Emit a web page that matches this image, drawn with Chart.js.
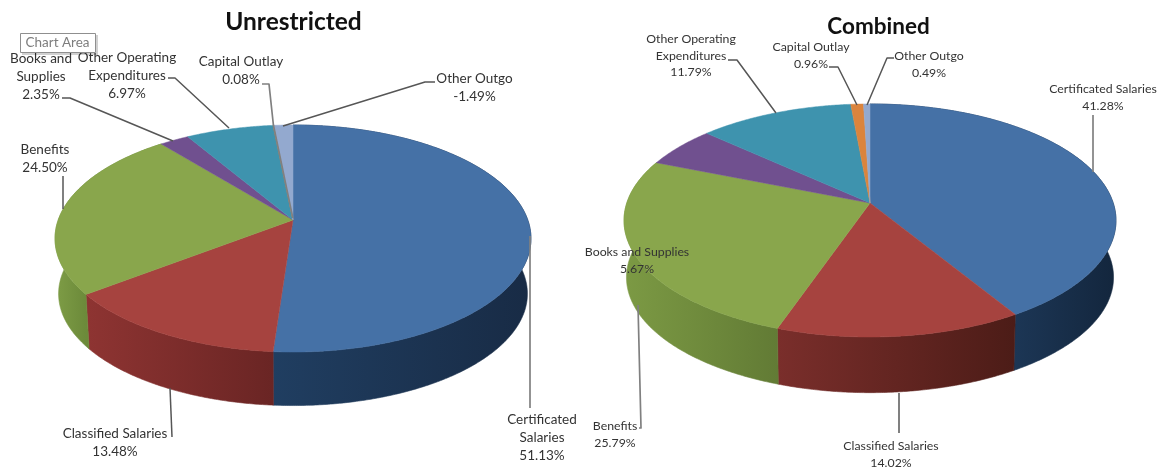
<!DOCTYPE html>
<html>
<head>
<meta charset="utf-8">
<script src="https://cdn.jsdelivr.net/npm/chart.js@4/dist/chart.umd.min.js"></script>
<style>
  html, body { margin: 0; background: #fff; }
  #stage { position: relative; width: 1162px; height: 470px; overflow: hidden; }
  canvas { position: absolute; left: 0; top: 0; }
</style>
</head>
<body>
<div id="stage">
  <canvas id="unrestricted" width="1162" height="470"></canvas>
  <canvas id="combined" width="1162" height="470"></canvas>
</div>
<script>
// Budget shares by expenditure category
const categories = ['Certificated Salaries', 'Classified Salaries', 'Benefits', 'Books and Supplies',
  'Other Operating Expenditures', 'Capital Outlay', 'Other Outgo'];
const unrestrictedValues = [51.13, 13.48, 24.50, 2.35, 6.97, 0.08, -1.49];
const combinedValues = [41.28, 14.02, 25.79, 5.67, 11.79, 0.96, 0.49];

// Slice colours: top face, then the shaded wall at its left and right end
const topColors = ['#4571A6', '#A6433F', '#89A64C', '#70508F', '#3E93AE', '#DB843D', '#93A9CF'];
const unrestrictedWalls = [['#203E61', '#182B45'], ['#8E3432', '#6A2524'], ['#7E9D46', '#6C8A3A'],
  ['#4E3866', '#4E3866'], ['#2A6A80', '#2A6A80'], ['#9C5E2B', '#9C5E2B'], ['#6A7A96', '#6A7A96']];
const combinedWalls = [['#1C3655', '#13263D'], ['#7A2E2B', '#4C1C17'], ['#7C9A44', '#627B35'],
  ['#4E3866', '#4E3866'], ['#2A6A80', '#2A6A80'], ['#9C5E2B', '#9C5E2B'], ['#6A7A96', '#6A7A96']];

// Label wrapping and placement, one entry per category: lines, centre x, first line y, leader polyline
const unrestrictedLabels = [
  { lines: ['Certificated', 'Salaries'], x: 542, y: 420, soft: true, leader: [[530, 408], [530, 236]] },
  { lines: ['Classified Salaries'], x: 115, y: 434, leader: [[172, 437], [170, 388]] },
  { lines: ['Benefits'], x: 45, y: 150, leader: [[63, 176], [63, 209]] },
  { lines: ['Books and', 'Supplies'], x: 41, y: 59, leader: [[62, 98], [70, 98], [173, 141]] },
  { lines: ['Other Operating', 'Expenditures'], x: 127, y: 58, leader: [[168, 78], [175, 78], [229, 128]] },
  { lines: ['Capital Outlay'], x: 241, y: 62, soft: true, leader: [[262, 84], [269, 84], [273.4, 125], [292.8, 218]] },
  { lines: ['Other Outgo'], x: 474.5, y: 79, leader: [[435, 82], [425, 82], [283, 126]] }
];
const combinedLabels = [
  { lines: ['Certificated Salaries'], x: 1103, y: 89, soft: true, leader: [[1093, 115], [1093, 172]] },
  { lines: ['Classified Salaries'], x: 891, y: 446, leader: [[899, 433], [899, 393]] },
  { lines: ['Benefits'], x: 615, y: 426, soft: true, leader: [[639, 428], [641, 428], [638, 305]] },
  { lines: ['Books and Supplies'], x: 637, y: 252, leader: [] },
  { lines: ['Other Operating', 'Expenditures'], x: 691, y: 39, leader: [[728, 60], [737, 60], [776, 113]] },
  { lines: ['Capital Outlay'], x: 811, y: 47, leader: [[829, 67], [838, 67], [857, 105]] },
  { lines: ['Other Outgo'], x: 929, y: 56, leader: [[894, 58], [887, 58], [867, 105]] }
];

// Draws the pie as a perspective-tilted disc from the angles Chart.js computed for each arc
const tiltedPie = {
  id: 'tiltedPie',
  beforeDatasetsDraw(chart, args, opts) {
    const ctx = chart.ctx;
    const arcs = chart.getDatasetMeta(0).data;
    const point = (a, scale, drop) => {
      const u = Math.cos(a), v = Math.sin(a), d = 1 - opts.perspective * v;
      return [opts.cx + opts.rx * scale * u / d, opts.cy + drop + opts.ry * scale * v / d];
    };
    const samples = (start, end) => {
      const n = Math.max(2, Math.ceil((end - start) / 0.008));
      return Array.from({ length: n + 1 }, (_, i) => start + (end - start) * i / n);
    };

    // Outer wall first, so the top face covers everything behind it
    arcs.forEach((arc, i) => {
      const { startAngle, endAngle } = arc.getProps(['startAngle', 'endAngle'], true);
      const angles = samples(startAngle, endAngle);
      const front = angles.filter(a => Math.sin(a) > -0.3).map(a => point(a, 1, 0)[0]);
      if (!front.length) return;
      const x0 = Math.min(...front), x1 = Math.max(...front);
      const grad = ctx.createLinearGradient(x0, 0, Math.max(x1, x0 + 1), 0);
      grad.addColorStop(0, opts.walls[i][0]);
      grad.addColorStop(1, opts.walls[i][1]);
      ctx.beginPath();
      angles.forEach((a, k) => {
        const p = point(a, 1, 0);
        k ? ctx.lineTo(p[0], p[1]) : ctx.moveTo(p[0], p[1]);
      });
      angles.slice().reverse().forEach(a => {
        const p = point(a, opts.wallScale, opts.depth);
        ctx.lineTo(p[0], p[1]);
      });
      ctx.closePath();
      ctx.fillStyle = grad;
      ctx.strokeStyle = grad;
      ctx.lineWidth = 0.6;
      ctx.fill();
      ctx.stroke();
    });

    arcs.forEach((arc, i) => {
      const { startAngle, endAngle } = arc.getProps(['startAngle', 'endAngle'], true);
      ctx.beginPath();
      ctx.moveTo(opts.cx, opts.cy);
      samples(startAngle, endAngle).forEach(a => {
        const p = point(a, 1, 0);
        ctx.lineTo(p[0], p[1]);
      });
      ctx.closePath();
      ctx.fillStyle = topColors[i];
      ctx.strokeStyle = topColors[i];
      ctx.lineWidth = 0.5;
      ctx.fill();
      ctx.stroke();
    });
    return false;
  },
  afterDraw(chart, args, opts) {
    const ctx = chart.ctx;
    const values = chart.data.datasets[0].data;
    ctx.save();

    // Leader lines
    ctx.lineJoin = 'round';
    opts.labels.forEach(l => {
      if (!l.leader.length) return;
      ctx.strokeStyle = l.soft ? '#808080' : '#565656';
      ctx.lineWidth = l.soft ? 1.7 : 1.5;
      ctx.beginPath();
      l.leader.forEach((p, k) => k ? ctx.lineTo(p[0], p[1]) : ctx.moveTo(p[0], p[1]));
      ctx.stroke();
    });

    // Category and percentage labels
    ctx.font = opts.labelFont;
    ctx.fillStyle = '#333333';
    ctx.textAlign = 'center';
    ctx.textBaseline = 'middle';
    opts.labels.forEach((l, i) => {
      [...l.lines, values[i].toFixed(2) + '%'].forEach((text, k) => {
        ctx.fillText(text, l.x, l.y + k * opts.lineGap);
      });
    });

    // Heading
    ctx.font = opts.titleFont;
    ctx.fillStyle = '#111';
    ctx.fillText(opts.title, opts.titleX, opts.titleY);

    // Hover caption left showing on the first chart
    if (opts.caption) {
      ctx.fillStyle = 'rgba(0,0,0,0.18)';
      ctx.fillRect(22, 35, 76, 20);
      ctx.fillStyle = '#fff';
      ctx.fillRect(20, 33, 76, 20);
      ctx.strokeStyle = '#8f8f8f';
      ctx.lineWidth = 1;
      ctx.strokeRect(20.5, 33.5, 75, 19);
      ctx.font = '13.5px Lato, "Open Sans", sans-serif';
      ctx.fillStyle = '#7d7d7d';
      ctx.fillText(opts.caption, 57.5, 43);
    }
    ctx.restore();
  }
};

function drawPie(id, values, settings) {
  return new Chart(document.getElementById(id), {
    type: 'pie',
    data: { labels: categories, datasets: [{ data: values, backgroundColor: topColors, borderWidth: 0 }] },
    plugins: [tiltedPie],
    options: {
      responsive: false,
      animation: false,
      plugins: { legend: { display: false }, tooltip: { enabled: false }, tiltedPie: settings }
    }
  });
}

drawPie('unrestricted', unrestrictedValues, {
  cx: 293, cy: 220, rx: 234.8, ry: 110.5, perspective: 0.163, depth: 55.5, wallScale: 0.985,
  walls: unrestrictedWalls, labels: unrestrictedLabels, lineGap: 18,
  labelFont: '13.5px Lato, "Open Sans", sans-serif',
  title: 'Unrestricted', titleFont: 'bold 24.5px Lato, "Open Sans", sans-serif', titleX: 293.5, titleY: 22,
  caption: 'Chart Area'
});

drawPie('combined', combinedValues, {
  cx: 870, cy: 203, rx: 243.2, ry: 113.9, perspective: 0.15, depth: 57, wallScale: 0.99,
  walls: combinedWalls, labels: combinedLabels, lineGap: 16.7,
  labelFont: '12.3px Lato, "Open Sans", sans-serif',
  title: 'Combined', titleFont: 'bold 22.5px Lato, "Open Sans", sans-serif', titleX: 878.5, titleY: 27
});
</script>
</body>
</html>
